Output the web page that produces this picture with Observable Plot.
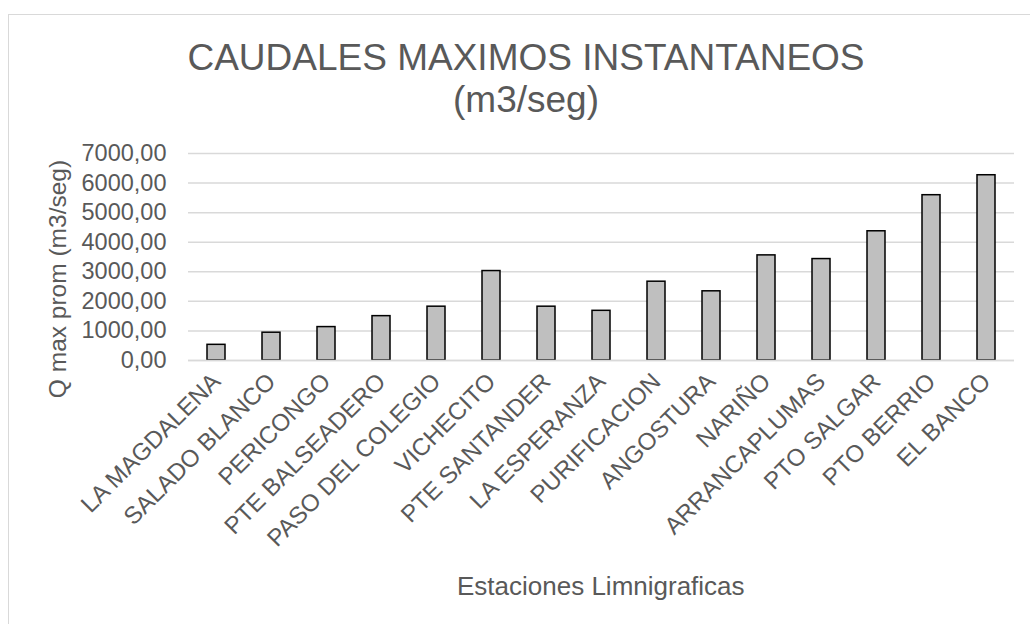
<!DOCTYPE html>
<html>
<head>
<meta charset="utf-8">
<script src="https://cdn.jsdelivr.net/npm/d3@7"></script>
<script src="https://cdn.jsdelivr.net/npm/@observablehq/plot@0.6"></script>
<style>
  html, body { margin: 0; padding: 0; background: #fff; }
  body { width: 1030px; height: 624px; overflow: hidden; position: relative; font-family: "Liberation Sans", Arial, sans-serif; }
  #frame { position: absolute; left: 8px; top: 14px; width: 1100px; height: 700px; border-top: 1.5px solid #d9d9d9; border-left: 1.5px solid #d9d9d9; box-sizing: border-box; }
  #chart { position: absolute; left: 0; top: 0; }
  .title { position: absolute; left: 8px; width: 1036px; text-align: center; color: #595959; font-size: 37px; line-height: 42px; }
  .ylab { position: absolute; color: #595959; font-size: 24.5px; white-space: nowrap; transform-origin: center center; }
  .xlab { position: absolute; color: #595959; font-size: 26px; white-space: nowrap; }
</style>
</head>
<body>
<div id="frame"></div>
<div id="chart"></div>
<div class="title" style="top:37px;">CAUDALES MAXIMOS INSTANTANEOS<br>(m3/seg)</div>
<div class="ylab" id="ylab">Q max prom (m3/seg)</div>
<div class="xlab" id="xlab">Estaciones Limnigraficas</div>
<script>
const stations = ["LA MAGDALENA","SALADO BLANCO","PERICONGO","PTE BALSEADERO","PASO DEL COLEGIO","VICHECITO","PTE SANTANDER","LA ESPERANZA","PURIFICACION","ANGOSTURA","NARIÑO","ARRANCAPLUMAS","PTO SALGAR","PTO BERRIO","EL BANCO"];
const caudales = [530, 940, 1130, 1500, 1820, 3025, 1820, 1680, 2665, 2340, 3555, 3430, 4370, 5590, 6265];
const yTicks = [0, 1000, 2000, 3000, 4000, 5000, 6000, 7000];

const data = stations.map((s, i) => ({estacion: s, q: caudales[i]}));
const fmt = d => d.toFixed(2).replace(".", ",");

const chart = Plot.plot({
  width: 1030,
  height: 624,
  marginLeft: 188,
  marginRight: 16,
  marginTop: 153,
  marginBottom: 264,
  style: {fontFamily: "'Liberation Sans', Arial, sans-serif", background: "transparent", overflow: "visible"},
  x: {domain: stations, paddingInner: 0.67, paddingOuter: 0.335, label: null},
  y: {domain: [0, 7000], label: null},
  marks: [
    Plot.ruleY(yTicks, {stroke: "#d9d9d9", strokeWidth: 1.5}),
    Plot.barY(data, {x: "estacion", y: "q", fill: "#bfbfbf", stroke: "#000", strokeWidth: 1.5}),
    Plot.ruleY([0], {stroke: "#d9d9d9", strokeWidth: 1.5}),
    Plot.axisY({ticks: yTicks, tickFormat: fmt, tickSize: 0, tickPadding: 22, fontSize: 23.5, color: "#595959", label: null}),
    Plot.axisX({tickRotate: -45, tickSize: 0, tickPadding: 17, fontSize: 24, color: "#595959", label: null})
  ]
});
document.getElementById("chart").appendChild(chart);

// axis titles centred on the plot area
const ylab = document.getElementById("ylab");
const yc = 279, xc = 58;
ylab.style.left = (xc - ylab.offsetWidth / 2) + "px";
ylab.style.top = (yc - ylab.offsetHeight / 2) + "px";
ylab.style.transform = "rotate(-90deg)";
const xlab = document.getElementById("xlab");
xlab.style.left = (601 - xlab.offsetWidth / 2) + "px";
xlab.style.top = (586 - xlab.offsetHeight / 2) + "px";
</script>
</body>
</html>
